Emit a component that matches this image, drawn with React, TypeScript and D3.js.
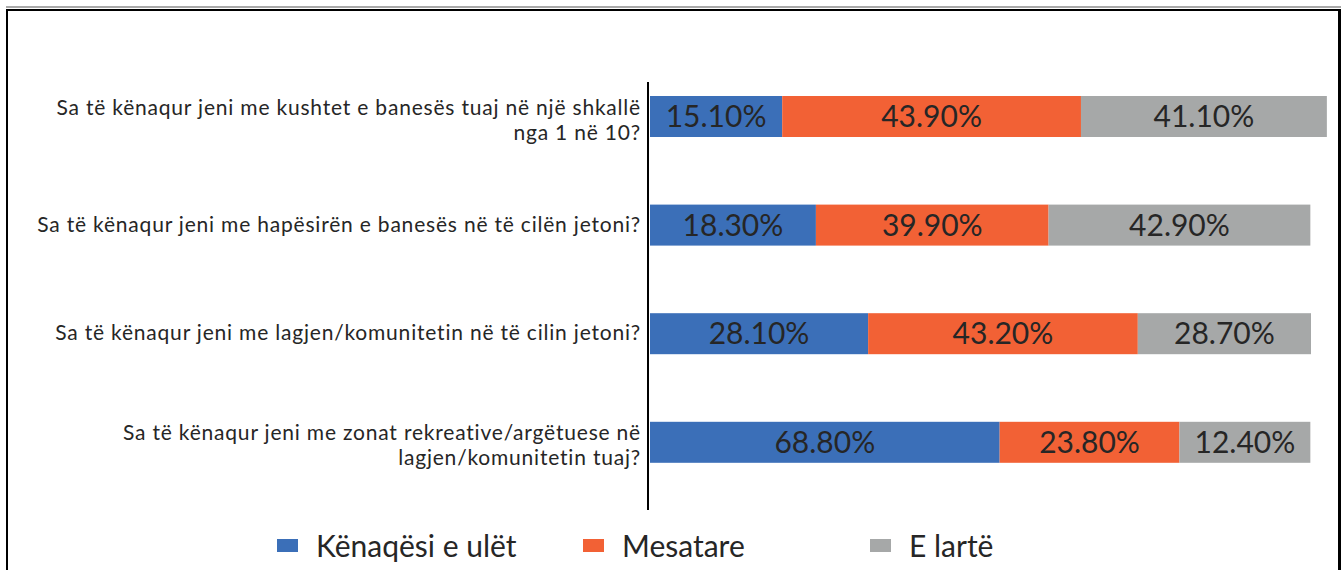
import React from "react";
import * as d3 from "d3";

const categories: string[][] = [
  ["Sa të kënaqur jeni me kushtet e banesës tuaj në një shkallë", "nga 1 në 10?"],
  ["Sa të kënaqur jeni me hapësirën e banesës në të cilën jetoni?"],
  ["Sa të kënaqur jeni me lagjen/komunitetin në të cilin jetoni?"],
  ["Sa të kënaqur jeni me zonat rekreative/argëtuese në", "lagjen/komunitetin tuaj?"],
];

// Printed data labels (percent)
const lowLabels = [15.1, 18.3, 28.1, 68.8];
const midLabels = [43.9, 39.9, 43.2, 23.8];
const highLabels = [41.1, 42.9, 28.7, 12.4];

// Bar segment lengths as drawn in the picture (axis units, 0-100)
const lowBars = [20.0, 25.1, 33.0, 52.9];
const midBars = [45.2, 35.2, 40.8, 27.2];
const highBars = [37.2, 39.6, 26.2, 19.8];

const seriesNames = ["Kënaqësi e ulët", "Mesatare", "E lartë"];
const colors = ["#3B6FB8", "#F26135", "#A6A8A8"];

const W = 1342;
const H = 570;
const FONT = "Lato, 'Noto Sans', sans-serif";

export default function App() {
  const x = d3.scaleLinear().domain([0, 100]).range([650, 1311]);
  const idx = categories.map((_, i) => String(i));
  const y = d3
    .scaleBand<string>()
    .domain(idx)
    .range([62.2, 496.6])
    .paddingInner(0.6225)
    .paddingOuter(0.31125);

  const bars = [lowBars, midBars, highBars];
  const labels = [lowLabels, midLabels, highLabels];

  const legendX = d3.scaleOrdinal<string, number>().domain(seriesNames).range([277, 583, 870]);

  return (
    <svg
      width={W}
      height={H}
      style={{ position: "absolute", left: 0, top: 0, background: "#fff" }}
      fontFamily={FONT}
    >
      <rect x={6} y={6} width={1335} height={2} fill="#A9A9A9" />
      <rect x={8} y={9} width={1332} height={2} fill="#000" />
      <rect x={6} y={9} width={2} height={H} fill="#000" />
      <rect x={1338} y={9} width={3} height={H} fill="#000" />

      {categories.map((lines, i) => {
        const yTop = y(String(i)) as number;
        const bw = y.bandwidth();
        const cy = yTop + bw / 2;
        let acc = 0;
        const lh = 25;
        const first = cy - ((lines.length - 1) * lh) / 2 + 6.5 + (lines.length - 1) * 4;
        return (
          <g key={i}>
            {lines.map((t, k) => (
              <text
                key={k}
                x={641}
                y={first + k * lh}
                textAnchor="end"
                fontSize={21}
                letterSpacing={0.8}
                fill="#262626"
              >
                {t}
              </text>
            ))}
            {bars.map((s, j) => {
              const x0 = x(acc);
              acc += s[i];
              const x1 = x(acc);
              return (
                <g key={j}>
                  <rect x={x0} y={yTop} width={x1 - x0} height={bw} fill={colors[j]} />
                  <text
                    x={(x0 + x1) / 2}
                    y={cy + 10.5}
                    textAnchor="middle"
                    fontSize={30}
                    fill="#262626"
                  >
                    {labels[j][i].toFixed(2) + "%"}
                  </text>
                </g>
              );
            })}
          </g>
        );
      })}

      <line x1={648} x2={648} y1={82} y2={510} stroke="#000" strokeWidth={2} />

      {seriesNames.map((n, j) => (
        <g key={n}>
          <rect x={legendX(n)} y={539} width={21} height={13} fill={colors[j]} />
          <text x={legendX(n) + 39} y={556.5} fontSize={30} fill="#262626">
            {n}
          </text>
        </g>
      ))}
    </svg>
  );
}
